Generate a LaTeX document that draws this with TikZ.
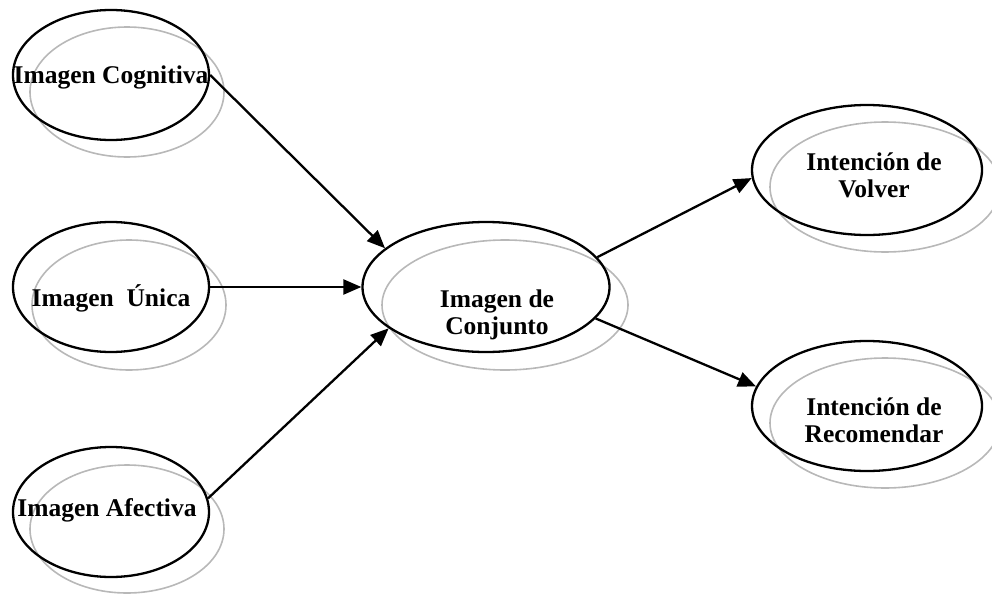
\documentclass[tikz,border=0pt]{standalone}
\usepackage{fontspec}
\setmainfont{Liberation Serif}
\usetikzlibrary{shapes.geometric,arrows.meta}

\begin{document}
\begin{tikzpicture}[x=1pt,y=-1pt,
  blob/.style={ellipse,draw=black,line width=2.3pt,inner sep=0pt,minimum height=130pt},
  shade/.style={draw=black!28,line width=1.6pt},
  txt/.style={inner sep=0pt,align=center,font=\fontsize{25.5}{27}\selectfont\bfseries},
  link/.style={line width=2.3pt,-{Triangle[length=18pt,width=15pt]}}]
\useasboundingbox (0,0) rectangle (992,594);
% gray copies, drawn first
\draw [shade] (127,92) ellipse (97 and 65);
\draw [shade] (129,305) ellipse (97 and 65);
\draw [shade] (127,529) ellipse (97 and 64);
\draw [shade] (505,305) ellipse (123 and 65);
\draw [shade] (885,187) ellipse (115 and 65);
\draw [shade] (885,423) ellipse (115 and 65);
% the ellipses
\node [blob,minimum width=196pt] (cog) at (111,75) {};
\node [blob,minimum width=196pt] (uni) at (111,287) {};
\node [blob,minimum width=196pt] (afe) at (111,512) {};
\node [blob,minimum width=247pt] (conj) at (486,287) {};
\node [blob,minimum width=230pt] (vol) at (867,170) {};
\node [blob,minimum width=230pt] (rec) at (867,406) {};
% texts
\node [txt] (cogt) at (111,77) {Imagen Cognitiva};
\node [txt] (unit) at (111,298) {Imagen\ \ Única};
\node [txt] (afet) at (107,510) {Imagen Afectiva};
\node [txt] (conjt) at (497,315) {Imagen de\\Conjunto};
\node [txt] (volt) at (874,175) {Intención de\\Volver};
\node [txt] (rect) at (874,420) {Intención de\\Recomendar};
% arrows
\draw [link] (cog.east) -- (conj.159);
\draw [link] (uni.east) -- (conj.west);
\draw [link] (afe.8) -- (conj.203);
\draw [link] (conj.15) -- (vol.184);
\draw [link] (conj.-16) -- (rec.170);
\end{tikzpicture}
\end{document}
